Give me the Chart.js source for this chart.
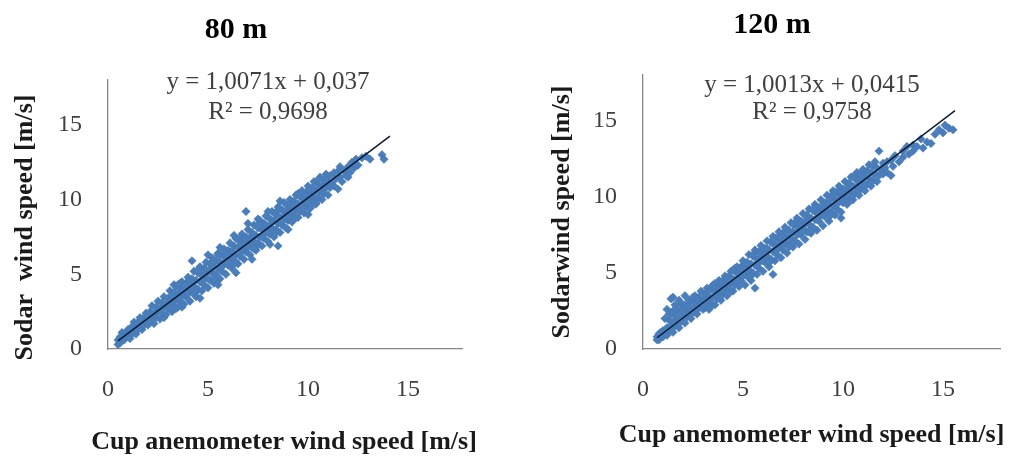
<!DOCTYPE html>
<html>
<head>
<meta charset="utf-8">
<script src="https://cdn.jsdelivr.net/npm/chart.js@4/dist/chart.umd.min.js"></script>
<style>
    body { margin: 0; background: #ffffff; }
    .box { position: absolute; top: 0; height: 457px; }
</style>
</head>
<body>
<div class="box" style="left:0;width:500px"><canvas id="chart80"></canvas></div>
<div class="box" style="left:500px;width:513px"><canvas id="chart120"></canvas></div>
<script>
// Axis ticks shared by both panels
const tickValues = [0, 5, 10, 15];
const xAxisTitle = 'Cup anemometer wind speed [m/s]';

// 80 m: [cup anemometer, sodar] wind speed pairs (m/s)
const points80 = [
    [0.5,0.3],[0.5,0.6],[0.6,0.4],[0.6,0.8],[0.7,0.7],[0.7,1.1],[0.8,0.6],[0.8,0.9],[0.9,0.8],[0.9,1.1],
    [1.0,1.0],[1.0,1.3],[1.1,0.7],[1.1,1.2],[1.2,1.0],[1.2,1.5],[1.3,1.2],[1.3,1.8],[1.4,1.0],[1.4,1.6],
    [1.5,1.3],[1.5,1.8],[1.6,1.5],[1.6,2.1],[1.7,1.3],[1.7,1.9],[1.8,1.6],[1.8,2.1],[1.9,1.8],[1.9,2.4],
    [2.0,1.6],[2.0,2.2],[2.1,1.8],[2.1,2.5],[2.2,2.1],[2.2,2.9],[2.3,1.7],[2.3,2.4],[2.4,2.1],[2.4,2.8],
    [2.5,2.5],[2.5,3.2],[2.6,2.0],[2.6,2.7],[2.7,2.4],[2.7,3.1],[2.8,2.8],[2.8,3.5],[2.8,2.1],[2.9,2.3],
    [2.9,3.0],[3.0,2.7],[3.0,3.4],[3.1,3.0],[3.1,3.9],[3.2,2.5],[3.2,3.4],[3.3,2.9],[3.3,3.8],[3.3,4.3],
    [3.4,3.3],[3.4,4.2],[3.5,2.8],[3.5,3.7],[3.6,3.2],[3.6,4.1],[3.7,3.6],[3.7,4.5],[3.7,2.8],[3.8,3.0],
    [3.8,4.0],[3.9,3.5],[3.9,4.4],[4.0,3.9],[4.0,4.8],[4.1,3.2],[4.1,4.3],[4.2,3.8],[4.2,4.7],[4.2,5.9],
    [4.3,4.2],[4.3,5.2],[4.4,3.5],[4.4,4.6],[4.5,4.0],[4.5,5.1],[4.6,4.5],[4.6,5.5],[4.6,3.4],[4.7,3.9],
    [4.7,4.9],[4.8,4.3],[4.8,5.4],[4.9,4.8],[4.9,5.8],[5.0,4.1],[5.0,5.2],[5.0,6.3],[5.1,4.6],[5.1,5.7],
    [5.2,5.1],[5.2,6.1],[5.3,4.4],[5.3,5.5],[5.4,5.0],[5.4,5.9],[5.5,5.4],[5.5,6.4],[5.5,4.3],[5.6,4.7],
    [5.6,5.8],[5.6,6.8],[5.7,5.2],[5.7,6.3],[5.8,5.7],[5.8,6.7],[5.9,5.0],[5.9,6.1],[6.0,5.6],[6.0,6.6],
    [6.1,6.0],[6.1,7.1],[6.2,5.4],[6.2,6.4],[6.3,5.9],[6.3,6.9],[6.3,7.6],[6.4,6.3],[6.4,7.4],[6.4,5.1],
    [6.5,5.7],[6.5,6.8],[6.6,6.2],[6.6,7.2],[6.7,6.6],[6.7,7.7],[6.8,6.0],[6.8,7.0],[6.9,6.5],[6.9,7.5],
    [6.9,9.2],[7.0,6.9],[7.0,8.0],[7.0,8.4],[7.1,6.3],[7.1,7.4],[7.2,6.8],[7.2,7.8],[7.2,6.0],[7.3,7.2],
    [7.3,8.3],[7.4,6.6],[7.4,7.6],[7.5,7.1],[7.5,8.1],[7.5,8.7],[7.6,7.5],[7.6,8.6],[7.7,6.9],[7.7,8.0],
    [7.8,7.4],[7.8,8.4],[7.9,7.8],[7.9,8.9],[8.0,7.2],[8.0,8.2],[8.0,9.2],[8.1,7.7],[8.1,8.7],[8.1,7.0],
    [8.2,8.1],[8.2,9.2],[8.3,7.5],[8.3,8.6],[8.4,8.0],[8.4,9.0],[8.5,8.4],[8.5,9.5],[8.5,6.9],[8.6,7.8],
    [8.6,8.8],[8.6,9.9],[8.7,8.3],[8.7,9.3],[8.8,8.7],[8.8,9.8],[8.9,8.1],[8.9,9.2],[9.0,8.6],[9.0,9.6],
    [9.0,8.0],[9.1,9.0],[9.1,10.0],[9.2,8.5],[9.2,9.4],[9.3,8.9],[9.3,9.9],[9.4,9.3],[9.4,10.3],[9.5,8.8],
    [9.5,9.7],[9.5,10.4],[9.6,9.2],[9.6,10.2],[9.7,9.6],[9.7,10.6],[9.8,9.1],[9.8,10.0],[9.9,9.5],[9.9,10.5],
    [10.0,9.9],[10.0,10.9],[10.0,9.0],[10.1,9.4],[10.1,10.3],[10.2,9.8],[10.2,10.8],[10.3,10.2],[10.3,11.2],
    [10.4,9.7],[10.4,10.6],[10.5,10.1],[10.5,11.0],[10.6,10.5],[10.6,11.5],[10.7,10.0],[10.7,10.9],
    [10.8,10.4],[10.8,11.3],[10.9,10.8],[10.9,11.7],[11.0,10.3],[11.0,11.2],[11.1,10.8],[11.1,11.6],
    [11.2,11.1],[11.3,10.9],[11.3,11.8],[11.4,11.4],[11.5,10.7],[11.5,11.9],[11.6,11.5],[11.6,12.2],
    [11.7,11.2],[11.8,11.9],[11.9,11.6],[12.0,12.2],[12.0,11.5],[12.1,11.8],[12.2,12.5],[12.3,12.1],
    [12.4,12.7],[12.5,12.3],[12.7,12.8],[12.9,12.9],[13.1,12.7],[13.7,13.0],[13.8,12.7],
    // inner part of the cloud
    [3.0,2.8],[3.2,3.6],[3.4,2.7],[3.6,4.4],[3.8,3.9],[4.0,3.7],[4.2,4.5],[4.4,3.8],[4.6,5.3],[4.8,4.9],
    [5.0,4.7],[5.2,5.5],[5.4,4.7],[5.6,6.3],[5.8,5.8],[6.0,5.8],[6.2,6.6],[6.4,5.8],[6.6,7.4],[6.8,6.9],
    [7.0,6.8],[7.2,7.6],[7.4,6.8],[7.6,8.4],[7.8,7.9],[8.0,7.8],[8.2,8.6],[8.4,7.8],[8.6,9.4],[8.8,8.9],
    [9.0,8.8],[9.2,9.6],[9.4,8.8],[9.6,10.4],[9.8,9.9],[10.0,9.8],[10.2,10.6],[10.4,9.8],[10.6,11.4],[10.8,10.9],
    [3.1,3.2],[3.3,2.7],[3.5,4.3],[3.7,3.5],[3.9,4.3],[4.1,4.2],[4.3,3.7],[4.5,5.3],[4.7,4.5],[4.9,5.3],
    [5.1,5.2],[5.3,4.7],[5.5,6.3],[5.7,5.5],[5.9,6.3],[6.1,6.2],[6.3,5.7],[6.5,7.3],[6.7,6.5],[6.9,7.3],
    [7.1,7.2],[7.3,6.7],[7.5,8.3],[7.7,7.5],[7.9,8.3],[8.1,8.2],[8.3,7.7],[8.5,9.3],[8.7,8.5],[8.9,9.3],
    [9.1,9.2],[9.3,8.7],[9.5,10.3],[9.7,9.5],[9.9,10.3],[10.1,10.2],[10.3,9.7],[10.5,11.3],[10.7,10.5],[10.9,11.3]
];
const trend80 = [[0.5, 0.54], [14.1, 14.24]];
const equation80 = ['y = 1,0071x + 0,037', 'R² = 0,9698'];

// 120 m: [cup anemometer, sodar] wind speed pairs (m/s)
const points120 = [
    [0.7,0.6],[0.7,0.8],[0.8,0.6],[0.8,1.0],[0.9,0.8],[0.9,1.1],[1.0,0.8],[1.0,1.2],[1.1,1.2],[1.1,2.0],
    [1.2,0.9],[1.2,1.4],[1.2,2.6],[1.3,1.2],[1.3,1.9],[1.4,1.5],[1.4,2.3],[1.4,3.3],[1.5,1.1],[1.5,1.8],
    [1.5,3.4],[1.6,1.5],[1.6,2.2],[1.6,2.9],[1.7,1.8],[1.7,2.6],[1.8,1.4],[1.8,2.0],[1.8,3.2],[1.9,1.8],
    [1.9,2.5],[2.0,2.1],[2.0,2.9],[2.1,1.7],[2.1,2.4],[2.1,3.5],[2.2,2.1],[2.2,2.8],[2.3,2.4],[2.3,3.2],
    [2.4,2.0],[2.4,2.6],[2.5,2.4],[2.5,3.1],[2.6,2.7],[2.6,3.5],[2.7,2.3],[2.7,3.0],[2.8,2.7],[2.8,3.4],
    [2.9,3.0],[2.9,3.8],[3.0,2.6],[3.0,3.2],[3.1,2.7],[3.1,3.6],[3.2,3.1],[3.2,4.0],[3.3,2.6],[3.3,3.4],
    [3.4,3.0],[3.4,3.9],[3.5,3.4],[3.5,4.2],[3.6,2.9],[3.6,3.8],[3.7,3.3],[3.7,4.2],[3.8,3.7],[3.8,4.5],
    [3.9,3.2],[3.9,4.0],[4.0,3.6],[4.0,4.5],[4.1,4.0],[4.1,4.8],[4.2,3.5],[4.2,4.3],[4.3,3.9],[4.3,4.8],
    [4.4,4.3],[4.4,5.1],[4.5,3.8],[4.5,4.6],[4.6,4.2],[4.6,5.1],[4.7,4.6],[4.7,5.4],[4.8,4.1],[4.8,4.9],
    [4.9,4.5],[4.9,5.4],[5.0,4.9],[5.0,5.8],[5.1,4.2],[5.1,5.3],[5.2,4.8],[5.2,5.7],[5.3,5.2],[5.3,6.2],
    [5.4,4.5],[5.4,5.6],[5.5,5.0],[5.5,6.1],[5.6,5.5],[5.6,6.5],[5.6,4.0],[5.7,4.9],[5.7,5.9],[5.8,5.3],
    [5.8,6.4],[5.9,5.8],[5.9,6.8],[6.0,5.1],[6.0,6.2],[6.1,5.7],[6.1,6.6],[6.2,6.1],[6.2,7.1],[6.3,5.4],
    [6.3,6.5],[6.4,5.9],[6.4,7.0],[6.5,6.4],[6.5,7.4],[6.5,4.9],[6.6,5.8],[6.6,6.8],[6.7,6.2],[6.7,7.3],
    [6.8,6.7],[6.8,7.7],[6.9,6.0],[6.9,7.1],[7.0,6.5],[7.0,7.6],[7.1,7.0],[7.1,8.0],[7.2,6.3],[7.2,7.4],
    [7.3,6.9],[7.3,7.8],[7.4,7.3],[7.4,8.3],[7.5,6.7],[7.5,7.7],[7.6,7.1],[7.6,8.2],[7.7,7.6],[7.7,8.6],
    [7.8,6.9],[7.8,8.0],[7.9,7.5],[7.9,8.4],[8.0,7.9],[8.0,8.9],[8.1,7.2],[8.1,8.3],[8.2,7.7],[8.2,8.8],
    [8.3,8.2],[8.3,9.2],[8.4,7.6],[8.4,8.6],[8.5,8.0],[8.5,9.1],[8.6,8.5],[8.6,9.5],[8.7,7.8],[8.7,8.9],
    [8.8,8.4],[8.8,9.3],[8.9,8.8],[8.9,9.8],[9.0,8.1],[9.0,9.2],[9.1,8.7],[9.1,9.6],[9.2,9.1],[9.2,10.1],
    [9.3,8.4],[9.3,9.5],[9.4,9.0],[9.4,9.9],[9.5,9.4],[9.5,10.4],[9.6,8.8],[9.6,9.8],[9.7,9.2],[9.7,10.3],
    [9.8,9.7],[9.8,10.7],[9.9,9.0],[9.9,10.1],[9.9,8.6],[10.0,9.6],[10.0,10.5],[10.1,10.0],[10.1,11.0],
    [10.2,9.5],[10.2,10.4],[10.3,9.9],[10.3,10.9],[10.4,10.3],[10.4,11.3],[10.5,9.8],[10.5,10.7],
    [10.6,10.2],[10.6,11.2],[10.7,10.6],[10.7,11.6],[10.8,10.1],[10.8,11.0],[10.9,10.5],[10.9,11.5],
    [11.0,10.9],[11.0,11.8],[11.1,10.4],[11.1,11.3],[11.2,10.8],[11.2,11.7],[11.3,11.2],[11.3,12.1],
    [11.4,10.7],[11.4,11.6],[11.5,11.1],[11.5,12.0],[11.6,11.5],[11.6,12.3],[11.7,11.0],[11.7,11.9],
    [11.8,11.4],[11.8,13.0],[11.9,11.8],[12.0,11.5],[12.0,12.2],[12.1,11.9],[12.2,12.3],[12.2,11.6],
    [12.4,11.4],[12.4,12.4],[12.5,12.0],[12.6,12.7],[12.8,12.3],[13.0,13.0],[13.0,12.6],[13.2,13.3],
    [13.3,12.8],[13.5,13.4],[13.5,13.0],[13.7,13.3],[13.9,13.8],[14.0,13.2],[14.2,13.6],[14.4,13.5],
    [14.6,14.1],[14.8,14.4],[15.0,14.2],[15.1,14.7],[15.3,14.5],[15.5,14.4],
    // inner part of the cloud
    [1.3,2.3],[1.5,2.5],[1.7,2.2],[1.9,2.9],[2.1,2.9],[2.3,2.8],[2.5,3.4],[2.7,3.3],[1.6,2.6],[2.0,2.5],
    [3.0,2.8],[3.2,3.6],[3.4,2.8],[3.6,4.3],[3.8,3.9],[4.0,3.8],[4.2,4.6],[4.4,3.8],[4.6,5.3],[4.8,4.9],
    [5.0,4.8],[5.2,5.6],[5.4,4.8],[5.6,6.3],[5.8,5.9],[6.0,5.8],[6.2,6.6],[6.4,5.8],[6.6,7.3],[6.8,6.9],
    [7.0,6.8],[7.2,7.6],[7.4,6.8],[7.6,8.3],[7.8,7.9],[8.0,7.8],[8.2,8.6],[8.4,7.8],[8.6,9.3],[8.8,8.9],
    [9.0,8.8],[9.2,9.6],[9.4,8.8],[9.6,10.3],[9.8,9.9],[10.0,9.8],[10.2,10.6],[10.4,9.8],[10.6,11.4],[10.8,10.9],
    [11.0,10.8],[11.2,11.6],[11.4,10.9],
    [3.1,3.2],[3.3,2.7],[3.5,4.2],[3.7,3.5],[3.9,4.3],[4.1,4.2],[4.3,3.7],[4.5,5.2],[4.7,4.5],[4.9,5.3],
    [5.1,5.2],[5.3,4.7],[5.5,6.2],[5.7,5.5],[5.9,6.3],[6.1,6.2],[6.3,5.7],[6.5,7.2],[6.7,6.5],[6.9,7.3],
    [7.1,7.2],[7.3,6.7],[7.5,8.2],[7.7,7.5],[7.9,8.3],[8.1,8.2],[8.3,7.7],[8.5,9.2],[8.7,8.5],[8.9,9.3],
    [9.1,9.2],[9.3,8.7],[9.5,10.2],[9.7,9.5],[9.9,10.3],[10.1,10.2],[10.3,9.7],[10.5,11.3],[10.7,10.5],[10.9,11.3]
];
const trend120 = [[0.7, 0.74], [15.6, 15.66]];
const equation120 = ['y = 1,0013x + 0,0415', 'R² = 0,9758'];

// Draws the trendline equation and the x axis title (wider than the plot, so not squeezed)
const panelText = {
    id: 'panelText',
    afterDraw(chart, args, opts) {
        const { ctx, chartArea } = chart;
        ctx.save();
        ctx.textAlign = 'center';
        ctx.textBaseline = 'middle';

        ctx.font = '25px "Liberation Serif"';
        ctx.fillStyle = '#404040';
        opts.lines.forEach((line, i) => {
            ctx.fillText(line, chartArea.left + opts.dx, chartArea.top + opts.dy + i * opts.gap);
        });

        ctx.font = 'bold 26px "Liberation Serif"';
        ctx.fillStyle = '#1a1a1a';
        const midX = (chartArea.left + chartArea.right) / 2;
        ctx.fillText(xAxisTitle, midX + opts.titleDx, chartArea.bottom + opts.titleDy);
        ctx.restore();
    }
};

function makePanel(canvasId, cfg) {
    const canvas = document.getElementById(canvasId);
    const axisColor = '#868686';
    const tickFont = { family: 'Liberation Serif', size: 24 };

    return new Chart(canvas.getContext('2d'), {
        type: 'scatter',
        data: {
            datasets: [{
                type: 'line',
                data: cfg.trend.map(p => ({ x: p[0], y: p[1] })),
                borderColor: '#0b1a33',
                borderWidth: 1.5,
                pointRadius: 0,
                fill: false,
                order: 0
            }, {
                data: cfg.points.map(p => ({ x: p[0], y: p[1] })),
                pointStyle: 'rectRot',
                pointRadius: 4.2,
                backgroundColor: '#4a7ebb',
                borderColor: '#4576b2',
                borderWidth: 0.5,
                order: 1
            }]
        },
        plugins: [panelText],
        options: {
            responsive: true,
            maintainAspectRatio: false,
            animation: false,
            events: [],
            layout: { padding: { left: cfg.padLeft, right: cfg.padRight, top: 0, bottom: 0 } },
            plugins: {
                legend: { display: false },
                tooltip: { enabled: false },
                title: {
                    display: true,
                    text: cfg.title,
                    color: '#000000',
                    font: { family: 'Liberation Serif', size: 30, weight: 'bold' },
                    padding: { top: cfg.titleTop, bottom: cfg.titleBottom }
                },
                panelText: cfg.text
            },
            scales: {
                x: {
                    type: 'linear',
                    min: 0,
                    max: cfg.xMax,
                    afterFit: scale => { scale.height = 108; },
                    afterBuildTicks: scale => { scale.ticks = tickValues.map(v => ({ value: v })); },
                    grid: { display: false, drawTicks: false },
                    border: { display: true, color: axisColor, width: 1.3 },
                    ticks: { color: '#404040', font: tickFont, padding: 26 }
                },
                y: {
                    type: 'linear',
                    min: 0,
                    max: 18,
                    afterFit: scale => { scale.width = cfg.yWidth; },
                    afterBuildTicks: scale => { scale.ticks = tickValues.map(v => ({ value: v })); },
                    grid: { display: false, drawTicks: false },
                    border: { display: true, color: axisColor, width: 1.3 },
                    ticks: { color: '#404040', font: tickFont, padding: 26 },
                    title: {
                        display: true,
                        text: cfg.yTitle,
                        color: '#1a1a1a',
                        font: { family: 'Liberation Serif', size: 26, weight: 'bold' },
                        padding: { top: cfg.yTitlePad }
                    }
                }
            }
        }
    });
}

makePanel('chart80', {
    title: '80 m',
    points: points80,
    trend: trend80,
    yTitle: 'Sodar  wind speed [m/s]    ',
    text: { lines: equation80, dx: 160, dy: 2, gap: 30, titleDx: -1, titleDy: 93 },
    xMax: 17.7,
    padLeft: 10,
    padRight: 38,
    yWidth: 98,
    yTitlePad: 0,
    titleTop: 12,
    titleBottom: 32
});

makePanel('chart120', {
    title: '120 m',
    points: points120,
    trend: trend120,
    yTitle: 'Sodarwind speed [m/s]',
    text: { lines: equation120, dx: 169, dy: 10, gap: 27, titleDx: -10, titleDy: 86 },
    xMax: 17.85,
    padLeft: 44,
    padRight: 13,
    yWidth: 99,
    yTitlePad: 3,
    titleTop: 7,
    titleBottom: 32
});
</script>
</body>
</html>
